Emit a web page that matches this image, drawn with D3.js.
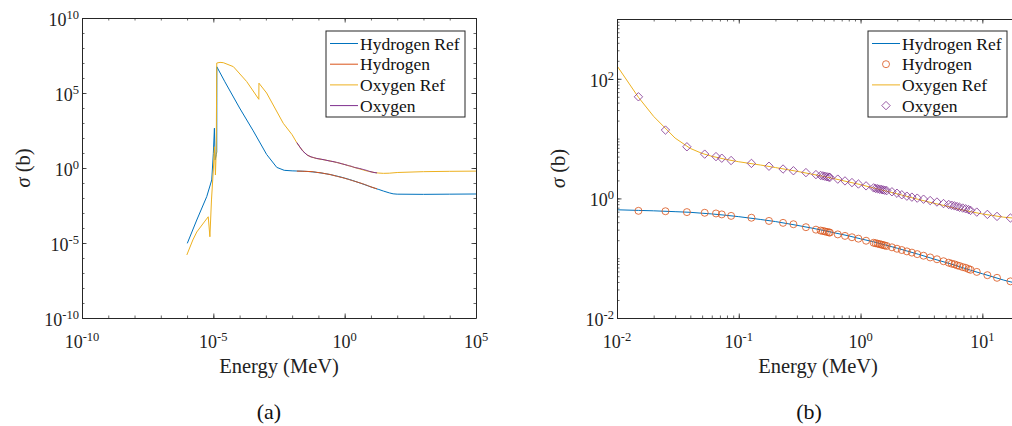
<!DOCTYPE html>
<html>
<head>
<meta charset="utf-8">
<script src="https://cdn.jsdelivr.net/npm/d3@7"></script>
<style>
  html, body { margin: 0; padding: 0; background: #fff; }
  svg text { font-family: "Liberation Serif", "DejaVu Serif", serif; }
</style>
</head>
<body>
<script>
// Reference cross sections (MeV, barns)
const hRefEnergy = [1.02e-6, 2.34e-6, 5.6e-6, 8.7e-6, 1.0e-5, 1.1e-5, 1.17e-5, 1.3e-5, 1.35e-5, 1.36e-5,
  2.75e-5, 1e-4, 3.3e-4, 1.07e-3, 2.6e-3, 5e-3, 0.01, 0.015, 0.02, 0.03, 0.04, 0.05, 0.06, 0.08, 0.1,
  0.15, 0.2, 0.3, 0.4, 0.5, 0.6, 0.8, 1, 1.25, 1.5, 2, 3, 4, 5, 6, 8, 10, 15, 20, 30, 50, 70, 100, 1000, 1e4, 1e5];
const hRefSigma = [9.5e-6, 3.4e-4, 0.0123, 0.16, 9.5, 450, 3.4, 8, 12, 5.6e6,
  5.6e5, 1.0e4, 300, 8, 1.1, 0.7, 0.645, 0.63, 0.62, 0.60, 0.585, 0.565, 0.55, 0.52, 0.495,
  0.445, 0.41, 0.355, 0.318, 0.29, 0.268, 0.236, 0.211, 0.19, 0.172, 0.147, 0.116, 0.097, 0.085, 0.076, 0.063, 0.055, 0.043, 0.037, 0.029, 0.022, 0.019, 0.018, 0.0175, 0.018, 0.0185];

const oRefEnergy = [9.8e-7, 1.66e-6, 2.34e-6, 4.8e-6, 6.4e-6, 7.4e-6, 8.5e-6, 1.0e-5, 1.1e-5, 1.2e-5, 1.29e-5, 1.35e-5,
  1.8e-5, 2.4e-5, 5.8e-5, 1.86e-4, 5.4e-4, 5.45e-4, 1.07e-3, 4.6e-3, 0.01, 0.015, 0.02, 0.03, 0.04, 0.05, 0.06, 0.08, 0.1,
  0.15, 0.2, 0.3, 0.4, 0.5, 0.6, 0.8, 1, 1.25, 1.5, 2, 3, 4, 5, 6, 8, 10, 15, 20, 30, 50, 100, 1000, 1e4, 1e5];
const oRefSigma = [1.6e-6, 1.6e-5, 5.4e-5, 2.9e-4, 5.6e-4, 2.6e-5, 7.4e-3, 0.74, 26, 0.34, 16, 1.0e7,
  1.1e7, 1.05e7, 5.7e6, 5.8e5, 3.8e4, 4.5e5, 1.0e5, 955, 165, 49, 23.5, 10.2, 6.85, 5.65, 5.07, 4.45, 4.1,
  3.62, 3.28, 2.84, 2.54, 2.33, 2.15, 1.88, 1.7, 1.51, 1.38, 1.19, 0.96, 0.83, 0.75, 0.68, 0.6, 0.55, 0.485, 0.46, 0.44, 0.45, 0.5, 0.57, 0.6, 0.62];

// Computed cross sections on the transport energy grid
const calcEnergy = [0.015, 0.025, 0.0375, 0.0525, 0.065, 0.0725, 0.0865, 0.127, 0.177, 0.231, 0.281, 0.356, 0.43,
  0.47, 0.49, 0.51, 0.53, 0.55, 0.56, 0.65, 0.745, 0.85, 0.96, 1.11, 1.28, 1.33, 1.38, 1.43, 1.48, 1.53, 1.58, 1.64,
  1.81, 1.99, 2.18, 2.4, 2.64, 2.92, 3.29, 3.73, 4.24, 4.8, 5.3, 5.6, 5.9, 6.2, 6.5, 6.9, 7.3, 7.7, 8.0, 9.0, 11.0, 13.2, 17];
const hydrogenCalc = [0.62, 0.61, 0.59, 0.575, 0.56, 0.54, 0.51, 0.475, 0.42, 0.39, 0.37, 0.33, 0.30,
  0.29, 0.285, 0.28, 0.275, 0.27, 0.268, 0.25, 0.236, 0.224, 0.212, 0.196, 0.181, 0.178, 0.175, 0.172, 0.169, 0.166, 0.163, 0.16,
  0.152, 0.144, 0.137, 0.13, 0.124, 0.117, 0.11, 0.103, 0.096, 0.089, 0.084, 0.081, 0.079, 0.076, 0.074, 0.071, 0.069, 0.066, 0.064, 0.059, 0.052, 0.047, 0.041];
const oxygenCalc = [50, 13.9, 7.3, 5.5, 5.0, 4.7, 4.3, 3.85, 3.45, 3.1, 2.9, 2.7, 2.5,
  2.42, 2.38, 2.34, 2.3, 2.27, 2.25, 2.1, 1.96, 1.84, 1.74, 1.62, 1.5, 1.47, 1.45, 1.43, 1.41, 1.39, 1.37, 1.35,
  1.29, 1.22, 1.15, 1.09, 1.05, 1.01, 0.97, 0.92, 0.87, 0.82, 0.79, 0.77, 0.75, 0.73, 0.71, 0.69, 0.67, 0.65, 0.63, 0.59, 0.54, 0.5, 0.47];

const seriesNames = ["Hydrogen Ref", "Hydrogen", "Oxygen Ref", "Oxygen"];
const seriesColors = ["#0072BD", "#D95319", "#EDB120", "#7E2F8E"];

const xTicksA = [1e-10, 1e-5, 1e0, 1e5];
const yTicksA = [1e-10, 1e-5, 1e0, 1e5, 1e10];
const xTicksB = [1e-2, 1e-1, 1e0, 1e1];
const yTicksB = [1e-2, 1e0, 1e2];

const W = 1012, H = 426;
const AXIS = "#262626";
const FONT = "'Liberation Serif', 'DejaVu Serif', serif";
const svg = d3.select("body").append("svg").attr("width", W).attr("height", H)
  .attr("font-family", FONT);

function zip(xs, ys) { return xs.map((x, i) => [x, ys[i]]); }

// Positions for minor ticks: every decade, or 1..9 within each decade
function minorLog(domain, mode) {
  const out = [];
  const lo = Math.floor(Math.log10(domain[0])), hi = Math.ceil(Math.log10(domain[1]));
  for (let e = lo; e <= hi; e++) {
    const mults = mode === "sub" ? [1, 2, 3, 4, 5, 6, 7, 8, 9] : [1];
    mults.forEach(m => {
      const v = m * Math.pow(10, e);
      if (v >= domain[0] * 0.999 && v <= domain[1] * 1.001) out.push(v);
    });
  }
  return out;
}

function drawFrame(g, x, y, majorX, majorY, minorX, minorY) {
  const [x0, x1] = x.range();
  const [y0, y1] = y.range();
  const sides = [
    [d3.axisBottom(x), `translate(0,${y0})`, majorX, minorX],
    [d3.axisTop(x), `translate(0,${y1})`, majorX, minorX],
    [d3.axisLeft(y), `translate(${x0},0)`, majorY, minorY],
    [d3.axisRight(y), `translate(${x1},0)`, majorY, minorY]
  ];
  sides.forEach(([ax, tr, maj, min]) => {
    const gm = g.append("g").attr("transform", tr)
      .call(ax.tickValues(min).tickFormat("").tickSizeInner(-2.5).tickSizeOuter(0));
    gm.select(".domain").remove();
    gm.selectAll("line").attr("stroke", AXIS).attr("stroke-width", 0.7);
    const gM = g.append("g").attr("transform", tr)
      .call(ax.tickValues(maj).tickFormat("").tickSizeInner(-4.5).tickSizeOuter(0));
    gM.select(".domain").attr("stroke", AXIS).attr("stroke-width", 1);
    gM.selectAll("line").attr("stroke", AXIS).attr("stroke-width", 0.8);
  });
}

function powLabel(sel, v, anchor) {
  const e = Math.round(Math.log10(v));
  sel.attr("text-anchor", anchor).attr("fill", "#222").attr("font-size", 18).attr("font-family", FONT);
  sel.append("tspan").text("10");
  sel.append("tspan").attr("dy", -7).attr("font-size", 12.5).text(String(e));
}

function drawTickLabels(g, x, y, majorX, majorY) {
  const [x0] = x.range();
  const [y0] = y.range();
  majorX.forEach(v => {
    g.append("text").attr("x", x(v)).attr("y", y0 + 30).call(powLabel, v, "middle");
  });
  majorY.forEach(v => {
    g.append("text").attr("x", x0 - 3).attr("y", y(v) + 8).call(powLabel, v, "end");
  });
}

function drawAxisTitles(g, x, y, yTitleX) {
  const [x0, x1] = x.range();
  const [y0, y1] = y.range();
  g.append("text").attr("x", (x0 + x1) / 2).attr("y", 373).attr("text-anchor", "middle")
    .attr("font-family", FONT).attr("font-size", 20.5).attr("fill", "#222").text("Energy (MeV)");
  const t = g.append("text").attr("transform", `translate(${yTitleX},${(y0 + y1) / 2}) rotate(-90)`)
    .attr("text-anchor", "middle").attr("font-family", FONT).attr("font-size", 20.5).attr("fill", "#222");
  t.append("tspan").attr("font-style", "italic").text("σ");
  t.append("tspan").text(" (b)");
}

function drawLegend(g, left, top, markers) {
  const w = 139, h = 86;
  g.append("rect").attr("x", left).attr("y", top).attr("width", w).attr("height", h)
    .attr("fill", "#fff").attr("stroke", AXIS).attr("stroke-width", 1);
  seriesNames.forEach((name, i) => {
    const yy = top + 12.5 + i * 20.7;
    const m = markers[i];
    if (m === "line") {
      g.append("line").attr("x1", left + 4).attr("x2", left + 32).attr("y1", yy).attr("y2", yy)
        .attr("stroke", seriesColors[i]).attr("stroke-width", 1);
    } else if (m === "circle") {
      g.append("circle").attr("cx", left + 18).attr("cy", yy).attr("r", 3.5)
        .attr("fill", "none").attr("stroke", seriesColors[i]).attr("stroke-width", 0.8);
    } else {
      g.append("path").attr("d", "M0,-4.2L4.2,0L0,4.2L-4.2,0Z").attr("transform", `translate(${left + 18},${yy})`)
        .attr("fill", "none").attr("stroke", seriesColors[i]).attr("stroke-width", 0.8);
    }
    g.append("text").attr("x", left + 34).attr("y", yy + 6).attr("font-family", FONT)
      .attr("font-size", 17.5).attr("fill", "#111").text(name);
  });
}

// ---------- Panel (a): full energy range ----------
const xA = d3.scaleLog().domain([1e-10, 1e5]).range([82, 476]);
const yA = d3.scaleLog().domain([1e-10, 1e10]).range([318, 18]);
const gA = svg.append("g");

const lineA = d3.line().x(d => xA(d[0])).y(d => yA(d[1]));
const curvesA = [zip(hRefEnergy, hRefSigma), zip(calcEnergy, hydrogenCalc), zip(oRefEnergy, oRefSigma), zip(calcEnergy, oxygenCalc)];
curvesA.forEach((c, i) => {
  gA.append("path").attr("d", lineA(c)).attr("fill", "none")
    .attr("stroke", seriesColors[i]).attr("stroke-width", 1).attr("stroke-linejoin", "round");
});
drawFrame(gA, xA, yA, xTicksA, yTicksA, minorLog(xA.domain(), "dec"), minorLog(yA.domain(), "dec"));
drawTickLabels(gA, xA, yA, xTicksA, yTicksA);
drawAxisTitles(gA, xA, yA, 30);
drawLegend(gA, 326, 31, ["line", "line", "line", "line"]);
gA.append("text").attr("x", 269).attr("y", 419).attr("text-anchor", "middle").attr("font-family", FONT)
  .attr("font-size", 22).attr("fill", "#111").text("(a)");

// ---------- Panel (b): 10 keV – 20 MeV ----------
const xB = d3.scaleLog().domain([1e-2, 20]).range([617, 1019]);
const yB = d3.scaleLog().domain([1e-2, 1e3]).range([318, 19]);
const gB = svg.append("g");
svg.append("clipPath").attr("id", "clipB")
  .append("rect").attr("x", 617).attr("y", 19).attr("width", 402).attr("height", 299);

const lineB = d3.line().x(d => xB(d[0])).y(d => yB(d[1]));
const plotB = gB.append("g").attr("clip-path", "url(#clipB)");
plotB.append("path").attr("d", lineB(zip(hRefEnergy, hRefSigma).filter(d => d[0] >= 0.005)))
  .attr("fill", "none").attr("stroke", seriesColors[0]).attr("stroke-width", 1);
plotB.selectAll("circle.h").data(zip(calcEnergy, hydrogenCalc)).join("circle").attr("class", "h")
  .attr("cx", d => xB(d[0])).attr("cy", d => yB(d[1])).attr("r", 3.5)
  .attr("fill", "none").attr("stroke", seriesColors[1]).attr("stroke-width", 0.8);
plotB.append("path").attr("d", lineB(zip(oRefEnergy, oRefSigma).filter(d => d[0] >= 0.005)))
  .attr("fill", "none").attr("stroke", seriesColors[2]).attr("stroke-width", 1);
plotB.selectAll("path.o").data(zip(calcEnergy, oxygenCalc)).join("path").attr("class", "o")
  .attr("d", "M0,-4.2L4.2,0L0,4.2L-4.2,0Z")
  .attr("transform", d => `translate(${xB(d[0])},${yB(d[1])})`)
  .attr("fill", "none").attr("stroke", seriesColors[3]).attr("stroke-width", 0.8);

drawFrame(gB, xB, yB, xTicksB, yTicksB, minorLog(xB.domain(), "sub"), minorLog(yB.domain(), "sub"));
drawTickLabels(gB, xB, yB, xTicksB, yTicksB);
drawAxisTitles(gB, xB, yB, 565);
drawLegend(gB, 868, 31, ["line", "circle", "line", "diamond"]);
gB.append("text").attr("x", 809).attr("y", 419).attr("text-anchor", "middle").attr("font-family", FONT)
  .attr("font-size", 22).attr("fill", "#111").text("(b)");
</script>
</body>
</html>
